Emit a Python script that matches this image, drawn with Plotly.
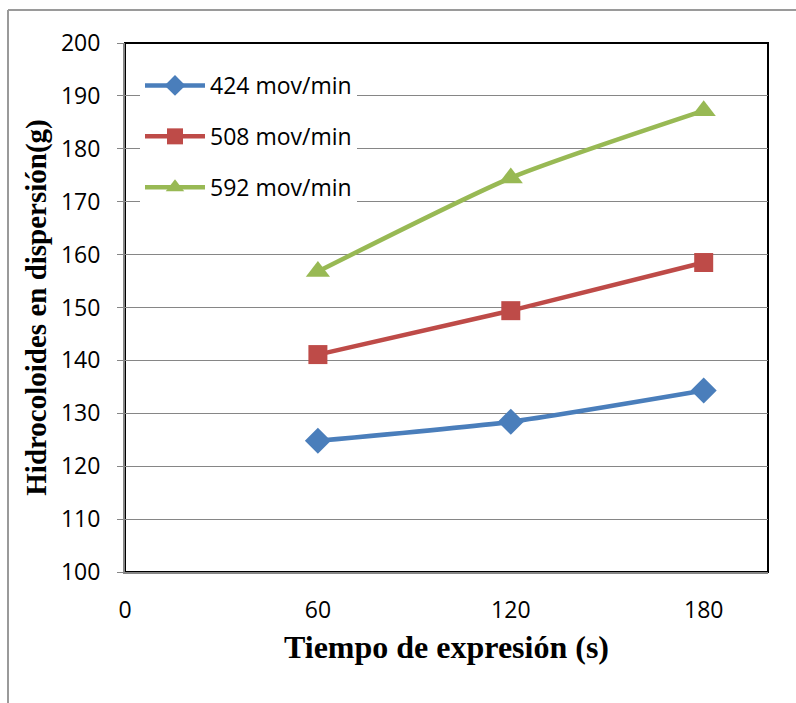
import plotly.graph_objects as go

x_vals = [60, 120, 180]
series_names = ["424 mov/min", "508 mov/min", "592 mov/min"]
s424 = [124.8, 128.4, 134.3]
s508 = [141.1, 149.4, 158.5]
s592 = [156.8, 174.5, 187.2]
x_ticks = [0, 60, 120, 180]
y_ticks = [100, 110, 120, 130, 140, 150, 160, 170, 180, 190, 200]

colors = ["#4A7EBB", "#BE4B48", "#98B954"]
symbols = ["diamond", "square", "triangle-up"]
msizes = [20, 19, 21]

W, H = 796, 703
L, R, T, B = 125, 28, 43, 131
pw, ph = W - L - R, H - T - B

fig = go.Figure()
for i, (name, ys) in enumerate(zip(series_names, [s424, s508, s592])):
    fig.add_trace(go.Scatter(
        x=x_vals, y=ys, name=name, mode="lines+markers",
        line=dict(color=colors[i], width=4.5, shape="spline", smoothing=0.6),
        marker=dict(symbol=symbols[i], size=msizes[i], color=colors[i]),
        legendgroup=f"g{i}",
    ))

def px2x(px):
    return (px - L) / pw

def py2y(py):
    return (H - B - py) / ph

shapes = [
    dict(type="rect", xref="paper", yref="paper", x0=0, y0=0, x1=1, y1=1,
         line=dict(color="#000000", width=2), layer="below"),
    dict(type="line", xref="paper", yref="paper", x0=px2x(8), y0=py2y(10),
         x1=px2x(800), y1=py2y(10), line=dict(color="#9a9a9a", width=2)),
    dict(type="line", xref="paper", yref="paper", x0=px2x(8), y0=py2y(10),
         x1=px2x(8), y1=py2y(710), line=dict(color="#9a9a9a", width=2)),
]

tick_font = dict(family="Open Sans, Noto Sans, sans-serif", size=23, color="#000000")

fig.update_layout(
    width=W, height=H,
    margin=dict(l=L, r=R, t=T, b=B),
    paper_bgcolor="#ffffff", plot_bgcolor="#ffffff",
    shapes=shapes,
    showlegend=True,
    legend=dict(
        x=px2x(140), y=py2y(64), xanchor="left", yanchor="top",
        bgcolor="#ffffff", borderwidth=0,
        font=dict(family="Open Sans, Noto Sans, sans-serif", size=23, color="#000000"),
        traceorder="grouped", tracegroupgap=18, itemwidth=60,
    ),
    xaxis=dict(
        range=[0, 200], tickvals=x_ticks, ticktext=[str(v) for v in x_ticks],
        showgrid=False, zeroline=False, showline=True, linecolor="#868686", linewidth=2,
        ticks="", tickfont=tick_font, ticklabelstandoff=16,
        title=dict(text="<b>Tiempo de expresión (s)</b>",
                   font=dict(family="Liberation Serif, Times New Roman, serif", size=32, color="#000000"),
                   standoff=12),
    ),
    yaxis=dict(
        range=[100, 200], tickvals=y_ticks, ticktext=[str(v) for v in y_ticks],
        showgrid=True, gridcolor="#868686", gridwidth=1, zeroline=False,
        showline=True, linecolor="#868686", linewidth=2,
        ticks="outside", ticklen=6, tickcolor="#868686", tickwidth=1,
        tickfont=tick_font, ticklabelstandoff=12,
        title=dict(text="<b>Hidrocoloides en dispersión(g)</b>",
                   font=dict(family="Liberation Serif, Times New Roman, serif", size=29, color="#000000"),
                   standoff=6),
    ),
)

fig.write_html("out.html")
